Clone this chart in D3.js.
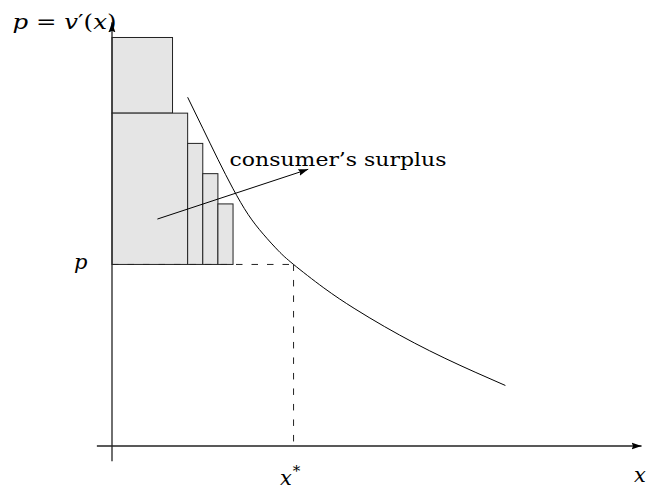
<!DOCTYPE html>
<html>
<head>
<meta charset="utf-8">
<script src="https://cdn.jsdelivr.net/npm/d3@7"></script>
<style>
  body { margin: 0; background: #fff; }
  text { font-family: "DejaVu Serif", serif; fill: #000; }
  .math { font-style: italic; }
</style>
</head>
<body>
<script>
// step bars under the demand curve (units of x and p)
var barX0 = [0, 0, 5, 6, 7]
var barX1 = [4, 5, 6, 7, 8]
var barY0 = [22, 12, 12, 12, 12]
var barY1 = [27, 22, 20, 18, 16]

// demand curve p = v'(x)
var curveX = [5, 6, 7, 8, 9, 10, 11, 12, 14, 16, 18, 20, 22, 24, 26]
var curveY = [23.05, 21.0, 18.95, 17.0, 15.3, 14.0, 12.9, 12.0, 10.45, 9.1, 7.9, 6.8, 5.8, 4.88, 4.0]

var priceP = 12
var quantX = 12

// pointer from the shaded area to the label
var pointerFrom = [3, 15]
var pointerTo = [12.97, 18.29]

var screen = {width: 647, height: 491}
var origin = {x: 112, y: 446}
var unit = 15.13

var xScale = d3.scaleLinear()
    .domain([0, 35])
    .range([origin.x, origin.x + 35 * unit])

var yScale = d3.scaleLinear()
    .domain([0, 28])
    .range([origin.y, origin.y - 28 * unit])

var svg = d3.select("body")
    .append("svg")
    .attr("width", screen.width)
    .attr("height", screen.height)

var defs = svg.append("defs")
defs.append("marker")
    .attr("id", "head")
    .attr("markerUnits", "userSpaceOnUse")
    .attr("viewBox", "0 -4 10 8")
    .attr("refX", 10)
    .attr("refY", 0)
    .attr("markerWidth", 10)
    .attr("markerHeight", 8)
    .attr("orient", "auto")
    .append("path")
    .attr("d", "M0,-3.4 L10,0 L0,3.4 L1.5,0 Z")
    .attr("fill", "#000")

// bars
var bars = barX0.map(function(d, i)
{
    return {x0: d, x1: barX1[i], y0: barY0[i], y1: barY1[i]}
})

svg.append("g")
    .selectAll("rect")
    .data(bars)
    .enter()
    .append("rect")
    .attr("x", function(d) {return xScale(d.x0)})
    .attr("y", function(d) {return yScale(d.y1)})
    .attr("width", function(d) {return xScale(d.x1) - xScale(d.x0)})
    .attr("height", function(d) {return yScale(d.y0) - yScale(d.y1)})
    .attr("fill", "#e5e5e5")
    .attr("stroke", "#222")
    .attr("stroke-width", 1)

// dashed guides at p and x*
svg.append("line")
    .attr("x1", xScale(0)).attr("y1", yScale(priceP))
    .attr("x2", xScale(quantX)).attr("y2", yScale(priceP))
    .attr("stroke", "#222")
    .attr("stroke-dasharray", "6.5,9")

svg.append("line")
    .attr("x1", xScale(quantX)).attr("y1", yScale(priceP))
    .attr("x2", xScale(quantX)).attr("y2", yScale(0))
    .attr("stroke", "#222")
    .attr("stroke-dasharray", "6.5,9")

// axes
svg.append("line")
    .attr("x1", xScale(-1)).attr("y1", yScale(0))
    .attr("x2", xScale(35)).attr("y2", yScale(0))
    .attr("stroke", "#222")
    .attr("stroke-width", 1.3)
    .attr("marker-end", "url(#head)")

svg.append("line")
    .attr("x1", xScale(0)).attr("y1", yScale(-1))
    .attr("x2", xScale(0)).attr("y2", yScale(28))
    .attr("stroke", "#222")
    .attr("stroke-width", 1.3)
    .attr("marker-end", "url(#head)")

// demand curve
var curvePts = curveX.map(function(d, i) {return [d, curveY[i]]})
var line = d3.line()
    .x(function(d) {return xScale(d[0])})
    .y(function(d) {return yScale(d[1])})
    .curve(d3.curveNatural)

svg.append("path")
    .attr("d", line(curvePts))
    .attr("fill", "none")
    .attr("stroke", "#000")
    .attr("stroke-width", 1)

// pointer arrow
svg.append("line")
    .attr("x1", xScale(pointerFrom[0])).attr("y1", yScale(pointerFrom[1]))
    .attr("x2", xScale(pointerTo[0])).attr("y2", yScale(pointerTo[1]))
    .attr("stroke", "#000")
    .attr("stroke-width", 1)
    .attr("marker-end", "url(#head)")

// labels
svg.append("text")
    .attr("x", 229.5)
    .attr("y", 166)
    .attr("font-size", 19)
    .attr("textLength", 217)
    .attr("lengthAdjust", "spacingAndGlyphs")
    .text("consumer\u2019s surplus")

var yLabel = svg.append("text")
    .attr("x", 12.5)
    .attr("y", 29)
    .attr("font-size", 20)
    .attr("textLength", 104)
    .attr("lengthAdjust", "spacingAndGlyphs")
yLabel.append("tspan").attr("class", "math").text("p")
yLabel.append("tspan").text(" = ")
yLabel.append("tspan").attr("class", "math").text("v")
yLabel.append("tspan").text("\u2032(")
yLabel.append("tspan").attr("class", "math").text("x")
yLabel.append("tspan").text(")")

svg.append("text")
    .attr("class", "math")
    .attr("x", 74)
    .attr("y", 269)
    .attr("font-size", 21)
    .text("p")

var xs = svg.append("text")
    .attr("x", 280)
    .attr("y", 485)
    .attr("font-size", 21)
xs.append("tspan").attr("class", "math").text("x")
xs.append("tspan").attr("font-size", 15).attr("dx", 1).attr("dy", -9).text("*")

svg.append("text")
    .attr("class", "math")
    .attr("x", 634)
    .attr("y", 482)
    .attr("font-size", 21)
    .text("x")
</script>
</body>
</html>
